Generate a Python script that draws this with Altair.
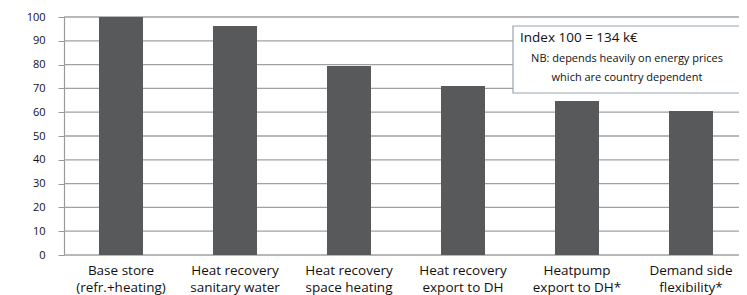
import altair as alt
import pandas as pd

categories = [
    "Base store|(refr.+heating)",
    "Heat recovery|sanitary water",
    "Heat recovery|space heating",
    "Heat recovery|export to DH",
    "Heatpump|export to DH*",
    "Demand side|flexibility*",
]
values = [100, 96.2, 79.4, 71.0, 64.7, 60.5]
y_ticks = [0, 10, 20, 30, 40, 50, 60, 70, 80, 90, 100]
note_title = "Index 100 = 134 k€"
note_line1 = "NB: depends heavily on energy prices"
note_line2 = "which are country dependent"

FONT = "Open Sans"
PLOT_W = 684

df = pd.DataFrame({"cat": categories, "val": values})
grid_df = pd.DataFrame({"g": y_ticks, "x0": [0] * len(y_ticks), "x1": [1] * len(y_ticks)})

yscale = alt.Scale(domain=[0, 100], nice=False)
yaxis = alt.Axis(
    values=y_ticks,
    grid=False,
    domainColor="#9a9a9a",
    domainWidth=1.2,
    tickColor="#9a9a9a",
    tickSize=6,
    labelPadding=13,
    labelFont=FONT,
    labelFontSize=11,
    labelColor="#111111",
)

grid = alt.Chart(grid_df).mark_rule(color="#a0a0a0", strokeWidth=1.3).encode(
    x=alt.X("x0:Q", scale=alt.Scale(domain=[0, 1], range=[0, PLOT_W]), axis=None),
    x2="x1:Q",
    y=alt.Y("g:Q", scale=yscale, title=None, axis=yaxis),
)

bars = alt.Chart(df).mark_bar(color="#58595b").encode(
    x=alt.X(
        "cat:N",
        sort=None,
        title=None,
        scale=alt.Scale(range=[0, PLOT_W], paddingInner=0.614, paddingOuter=0.307),
        axis=alt.Axis(
            labelExpr="split(datum.label, '|')",
            labelAngle=0,
            labelFont=FONT,
            labelFontSize=13.5,
            labelColor="#111111",
            labelLineHeight=17.5,
            labelPadding=8,
            ticks=False,
            domain=False,
            grid=False,
            labelLimit=200,
        ),
    ),
    y=alt.Y("val:Q", scale=yscale, title=None, axis=yaxis),
)

one = pd.DataFrame({"a": [0]})

box = alt.Chart(one).mark_rect(
    fill="white", stroke="#98a4b2", strokeWidth=1.2
).encode(
    x=alt.value(449), x2=alt.value(700), y=alt.value(9), y2=alt.value(76)
)

title_txt = alt.Chart(one).mark_text(
    align="left", baseline="middle", font=FONT, fontSize=13.5, color="#111111",
    text=note_title,
).encode(x=alt.value(456), y=alt.value(21))

nb1 = alt.Chart(one).mark_text(
    align="center", baseline="middle", font=FONT, fontSize=11, color="#111111",
    text=note_line1,
).encode(x=alt.value(563), y=alt.value(42))

nb2 = alt.Chart(one).mark_text(
    align="center", baseline="middle", font=FONT, fontSize=11, color="#111111",
    text=note_line2,
).encode(x=alt.value(563), y=alt.value(61))

chart = alt.layer(grid, bars, box, title_txt, nb1, nb2).resolve_scale(
    x="independent"
).properties(
    width=675,
    height=238,
    padding={"left": 56, "top": 9, "right": 0, "bottom": 40},
    autosize=alt.AutoSizeParams(type="none"),
    background="white",
).configure_view(stroke=None)

chart.save("out.html", embed_options={"renderer": "svg", "actions": False})
